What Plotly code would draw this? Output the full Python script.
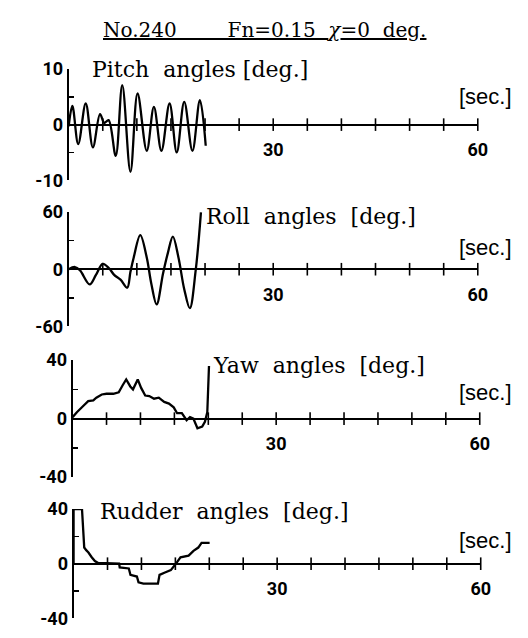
import plotly.graph_objects as go

W, H = 528, 638

# ---------------- data ----------------
pitch_t = [0.0, 0.54, 1.4, 2.5, 3.55, 4.6, 5.23, 5.85, 6.9, 7.86, 9.06, 10.1, 11.45,
           12.5, 13.6, 14.8, 15.85, 16.95, 18.15, 19.25, 20.1]
pitch_deg = [-0.3, 3.35, -3.5, 3.8, -4.1, 1.9, 0.3, 0.8, -5.6, 7.1, -8.5, 5.6, -4.7,
             3.2, -4.7, 3.8, -5.0, 4.1, -4.7, 4.4, -3.8]

roll_t = [0.0, 0.92, 1.64, 3.08, 4.0, 5.0, 5.95, 6.67, 7.6, 8.58, 9.06, 9.54, 10.5,
          11.45, 12.1, 12.9, 13.84, 14.56, 15.28, 16.1, 16.95, 17.77, 18.63, 19.4]
roll_deg = [0.0, 2.3, -1.0, -16.0, -6.0, 5.7, 0.7, -6.0, -11.0, -19.5, -2.7, 12.4, 35.9,
            12.4, -14.4, -37.0, -4.4, 17.4, 34.2, 12.4, -21.0, -41.0, -1.0, 60.0]

yaw_t = [0.0, 0.63, 1.6, 2.3, 3.05, 3.5, 4.3, 5.0, 6.0, 6.8, 7.4, 7.9, 8.5, 8.9, 9.6,
         10.1, 10.7, 11.3, 12.0, 12.7, 13.5, 14.2, 14.9, 15.4, 16.1, 16.8, 17.3, 17.8,
         18.4, 19.1, 19.5, 19.85, 20.1]
yaw_deg = [1.0, 4.4, 8.8, 12.0, 12.5, 14.3, 16.5, 17.0, 17.0, 18.0, 23.0, 26.8, 22.0, 20.0,
           26.8, 21.0, 15.8, 15.4, 13.6, 14.3, 11.4, 10.3, 7.7, 3.7, 3.7, -1.1, 1.1, 0.0,
           -6.6, -5.5, -2.2, 4.4, 36.0]

rudder_t = [0.0, 0.0, 1.24, 1.38, 1.57, 1.86, 2.19, 2.67, 3.14, 3.62, 6.71, 6.8, 8.14,
            8.38, 9.33, 9.57, 10.29, 12.43, 12.67, 13.38, 14.33, 14.9, 15.29, 15.76,
            16.95, 17.67, 18.38, 18.86, 20.05]
rudder_deg = [0.0, 40.0, 40.0, 23.5, 11.8, 9.9, 8.2, 4.7, 1.9, 0.5, 0.0, -2.8, -3.5,
              -8.2, -9.4, -13.6, -14.6, -14.6, -8.2, -6.6, -4.7, -1.2, 1.2, 4.7,
              5.9, 9.4, 11.8, 15.3, 15.3]

panel_names = ["Pitch\u00a0 angles [deg.]", "Roll\u00a0 angles\u00a0 [deg.]",
               "Yaw\u00a0 angles\u00a0 [deg.]", "Rudder\u00a0 angles\u00a0 [deg.]"]
y_limits = [10, 60, 40, 40]
x_tick_values = [5, 10, 15, 20, 25, 30, 35, 40, 45, 50, 55, 60]
x_label_values = [30, 60]
x_label_text = ["30", "60"]
time_unit = "[sec.]"
title_parts = ["No.240", "Fn=0.15", "<i>\u03c7</i>=0\u00a0\u00a0deg."]

series_t = [pitch_t, roll_t, yaw_t, rudder_t]
series_v = [pitch_deg, roll_deg, yaw_deg, rudder_deg]
smooth = [True, True, False, False]

# ---------------- layout geometry (pixels) ----------------
geo = [
    dict(x0=70, x1=487, top=60, bottom=175, tx=92, ty=60, sy=88),
    dict(x0=70, x1=487, top=208, bottom=326, tx=208, ty=213, sy=245),
    dict(x0=74, x1=489, top=361, bottom=482, tx=215, ty=367, sy=395),
    dict(x0=75, x1=490, top=515, bottom=628, tx=100, ty=518, sy=548),
]


def fx(px):
    return px / W


def fy(py):
    return 1 - py / H


serif = "DejaVu Serif, Liberation Serif, serif"
narrow = "Liberation Sans Narrow, Roboto, Liberation Sans, sans-serif"

fig = go.Figure()
layout = dict(
    width=W, height=H, margin=dict(l=0, r=0, t=0, b=0),
    paper_bgcolor="white", plot_bgcolor="white", showlegend=False,
    annotations=[],
)

for i in range(4):
    g = geo[i]
    m = y_limits[i]
    sfx = "" if i == 0 else str(i + 1)
    xa, ya = "x" + sfx, "y" + sfx
    zero_px = (g["top"] + g["bottom"]) / 2

    fig.add_trace(go.Scatter(
        x=series_t[i], y=series_v[i], mode="lines", xaxis=xa, yaxis=ya,
        line=dict(color="black", width=2.3,
                  shape="spline" if smooth[i] else "linear",
                  smoothing=1.0 if smooth[i] else None),
        hoverinfo="skip"))
    # crossing tick marks on the time axis
    fig.add_trace(go.Scatter(
        x=x_tick_values, y=[0] * len(x_tick_values), mode="markers",
        xaxis=xa, yaxis=ya, cliponaxis=False,
        marker=dict(symbol="line-ns", size=9, color="black",
                    line=dict(color="black", width=1.6)),
        hoverinfo="skip"))

    layout["xaxis" + sfx] = dict(
        domain=[fx(g["x0"]), fx(g["x1"])], range=[0, 60],
        anchor="free", position=fy(zero_px),
        showgrid=False, zeroline=False, showline=False,
        ticks="outside", ticklen=9, tickcolor="rgba(0,0,0,0)",
        tickvals=x_label_values, ticktext=x_label_text,
        tickfont=dict(family=narrow, size=18, color="black", weight="bold"),
    )
    layout["yaxis" + sfx] = dict(
        domain=[fy(g["bottom"]), fy(g["top"])], range=[-m, m],
        anchor=xa, showgrid=False,
        zeroline=True, zerolinecolor="black", zerolinewidth=2,
        showline=True, linecolor="black", linewidth=2,
        ticks="inside", ticklen=5, tickwidth=1.6, tickcolor="black",
        tickvals=[-m, -m / 2, 0, m / 2, m],
        ticktext=[str(-m), "", "0", "", str(m)],
        tickfont=dict(family=narrow, size=18, color="black", weight="bold"),
    )
    layout["annotations"].append(dict(
        text=panel_names[i], xref="paper", yref="paper",
        x=fx(g["tx"]), y=fy(g["ty"]), xanchor="left", yanchor="middle",
        showarrow=False, font=dict(family=serif, size=22, color="black")))
    layout["annotations"].append(dict(
        text=time_unit, xref="paper", yref="paper",
        x=fx(524), y=fy(g["sy"]), xanchor="right", yanchor="middle",
        showarrow=False,
        font=dict(family="Liberation Sans, Arial, sans-serif", size=22, color="black")))

gap_big = "\u00a0" * 8
gap_small = "\u00a0" * 2
layout["annotations"].append(dict(
    text="<u>" + title_parts[0] + gap_big + title_parts[1] + gap_small + title_parts[2] + "</u>",
    xref="paper", yref="paper", x=fx(103), y=fy(20), xanchor="left", yanchor="middle",
    showarrow=False, font=dict(family=serif, size=20, color="black")))

fig.update_layout(**layout)
page_css = ("document.documentElement.style.margin='0px';"
            "document.documentElement.style.overflow='hidden';"
            "document.body.style.margin='0px';"
            "document.body.style.overflow='hidden';")
fig.write_html("out.html", post_script=page_css,
               config={"displayModeBar": False, "staticPlot": True})
